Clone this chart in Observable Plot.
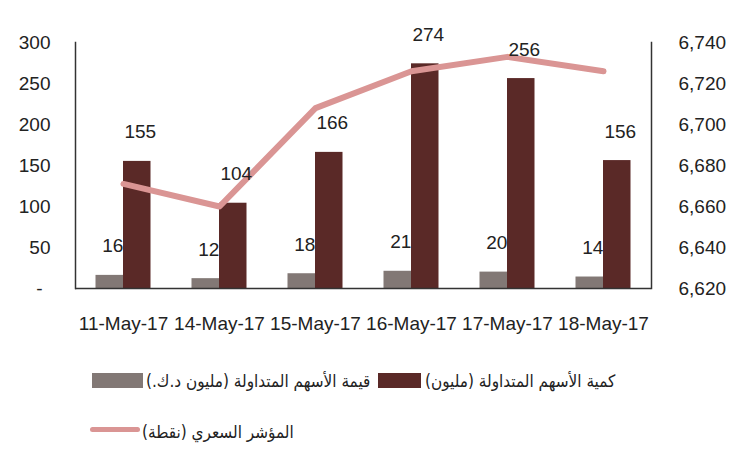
<!DOCTYPE html>
<html>
<head>
<meta charset="utf-8">
<script src="https://cdn.jsdelivr.net/npm/d3@7"></script>
<script src="https://cdn.jsdelivr.net/npm/@observablehq/plot@0.6"></script>
<style>
  body { margin: 0; background: #fff; }
  #wrap { position: relative; width: 740px; height: 453px; }
  .leg { position: absolute; font-family: "DejaVu Sans Condensed", "DejaVu Sans", sans-serif; font-size: 17px; color: #222; direction: rtl; white-space: nowrap; line-height: 20px; }
  .sw { position: absolute; }
</style>
</head>
<body>
<div id="wrap"></div>
<script>
const dates = ["11-May-17", "14-May-17", "15-May-17", "16-May-17", "17-May-17", "18-May-17"];
const valueMKD = [16, 12, 18, 21, 20, 14];          // قيمة الأسهم المتداولة (مليون د.ك.)
const volumeM = [155, 104, 166, 274, 256, 156];     // كمية الأسهم المتداولة (مليون)
const priceIndex = [6671, 6660, 6708, 6726, 6733, 6726]; // المؤشر السعري (نقطة)
const leftTicks = [0, 50, 100, 150, 200, 250, 300];
const rightTicks = [6620, 6640, 6660, 6680, 6700, 6720, 6740];

const seriesNames = {
  value: "قيمة الأسهم المتداولة (مليون د.ك.)",
  volume: "كمية الأسهم المتداولة (مليون)",
  index: "المؤشر السعري (نقطة)"
};
const colors = { value: "#827875", volume: "#5a2927", index: "#da9594" };

// map right-axis (index) values onto the left scale domain [0, 300]
const rMin = rightTicks[0], rMax = rightTicks[rightTicks.length - 1];
const lMax = leftTicks[leftTicks.length - 1];
const toLeft = v => (v - rMin) / (rMax - rMin) * lMax;
const toRight = d => rMin + d / lMax * (rMax - rMin);

const rows = dates.map((d, i) => ({ date: d, value: valueMKD[i], volume: volumeM[i], index: priceIndex[i] }));

const font = "'Liberation Sans', Arial, sans-serif";
const fs = 19;
const half = 48, barW = 27.5;

const chart = Plot.plot({
  width: 740,
  height: 345,
  marginLeft: 75,
  marginRight: 89,
  marginTop: 42,
  marginBottom: 57,
  style: { fontFamily: font, fontSize: fs + "px", color: "#222", background: "#fff" },
  x: { domain: dates, padding: 0, label: null },
  y: { domain: [0, lMax], label: null },
  marks: [
    Plot.barY(rows, { x: "date", y: "value", fill: colors.value, insetLeft: half - barW, insetRight: half }),
    Plot.barY(rows, { x: "date", y: "volume", fill: colors.volume, insetLeft: half, insetRight: half - barW }),
    Plot.line(rows, { x: "date", y: d => toLeft(d.index), stroke: colors.index, strokeWidth: 6, strokeLinecap: "round", strokeLinejoin: "round" }),
    Plot.frame({ anchor: "left", stroke: "#333", strokeWidth: 1.5 }),
    Plot.frame({ anchor: "right", stroke: "#333", strokeWidth: 1.5 }),
    Plot.ruleY([0], { stroke: "#333", strokeWidth: 1.5 }),
    Plot.axisY({ anchor: "left", ticks: leftTicks.filter(d => d !== 0), tickSize: 0, tickPadding: 25, tickFormat: d => String(d), fontSize: fs, label: null }),
    Plot.axisY({ anchor: "left", ticks: [0], tickSize: 0, tickPadding: 33, tickFormat: () => "-", fontSize: fs, label: null }),
    Plot.axisY({ anchor: "right", ticks: rightTicks.map(toLeft), tickSize: 0, tickPadding: 27, tickFormat: d => d3.format(",")(Math.round(toRight(d))), fontSize: fs, label: null }),
    Plot.axisX({ tickSize: 0, tickPadding: 28, fontSize: fs, label: null }),
    Plot.text(rows, { x: "date", y: "value", text: d => String(d.value), dx: -barW / 2 + 3, dy: -29, fontSize: fs, fill: "#222" }),
    Plot.text(rows, { x: "date", y: "volume", text: d => String(d.volume), dx: barW / 2 + 3, dy: -29, fontSize: fs, fill: "#222" })
  ]
});

const wrap = document.getElementById("wrap");
wrap.appendChild(chart);

function addSwatch(x, y, w, h, color, radius) {
  const s = document.createElement("div");
  s.className = "sw";
  Object.assign(s.style, { left: x + "px", top: y + "px", width: w + "px", height: h + "px", background: color, borderRadius: radius || "0" });
  wrap.appendChild(s);
}
function addLabel(text, left, top) {
  const t = document.createElement("div");
  t.className = "leg";
  t.textContent = text;
  t.style.left = left + "px";
  t.style.top = top + "px";
  wrap.appendChild(t);
}
addSwatch(92, 373, 51, 15, colors.value);
addLabel(seriesNames.value, 146, 371);
addSwatch(378, 373, 43, 15, colors.volume);
addLabel(seriesNames.volume, 425, 371);
addSwatch(90, 427, 50, 5, colors.index, "3px");
addLabel(seriesNames.index, 142, 422);
</script>
</body>
</html>
